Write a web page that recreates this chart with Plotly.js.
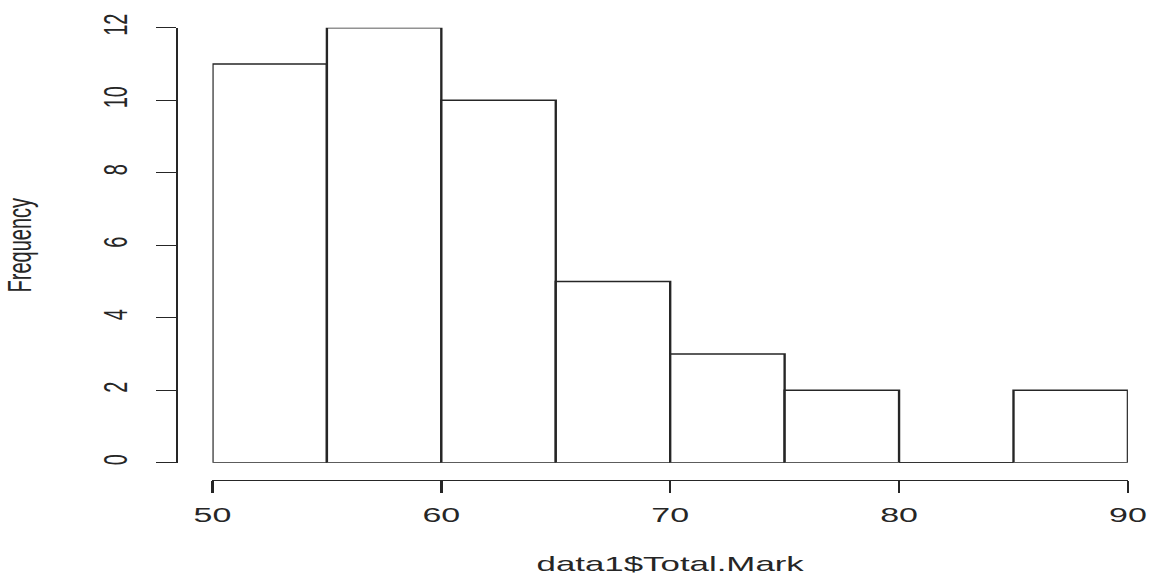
<!DOCTYPE html>
<html>
<head>
<meta charset="utf-8">
<script src="https://cdn.plot.ly/plotly-3.0.1.min.js"></script>
<style>
  html, body { margin: 0; padding: 0; background: #fff; overflow: hidden; }
  #wrap { width: 1149px; height: 575px; overflow: hidden; }
  #chart { width: 676px; height: 575px; transform: scaleX(1.69970); transform-origin: 0 0; }
</style>
</head>
<body>
<div id="wrap"><div id="chart"></div></div>
<script>
// Histogram of data1$Total.Mark
const binStarts = [50, 55, 60, 65, 70, 75, 80, 85];
const binWidth = 5;
const frequencies = [11, 12, 10, 5, 3, 2, 0, 2];
const xTickVals = [50, 60, 70, 80, 90];
const yTickVals = [0, 2, 4, 6, 8, 10, 12];
const xTitle = "data1$Total.Mark";
const yTitle = "Frequency";

const W = 676, H = 575;
const ink = "#262626";
const font = "Liberation Sans, Arial, sans-serif";
const lw = 1.4;

const centers = binStarts.map(s => s + binWidth / 2);

// zero-count bins are drawn as flat outlines on the baseline (as R does)
const zx = [], zy = [];
binStarts.forEach((s, i) => {
  if (frequencies[i] === 0) { zx.push(s, s + binWidth, null); zy.push(0, 0, null); }
});

const traces = [
  {
    type: "bar",
    x: centers,
    y: frequencies,
    width: binStarts.map(() => binWidth),
    marker: { color: "#ffffff", line: { color: ink, width: lw } },
    cliponaxis: false,
    hoverinfo: "x+y",
    showlegend: false
  },
  {
    type: "scatter",
    mode: "lines",
    x: zx,
    y: zy,
    line: { color: ink, width: lw },
    cliponaxis: false,
    hoverinfo: "skip",
    showlegend: false
  }
];

const layout = {
  width: W,
  height: H,
  margin: { l: 0, r: 0, t: 0, b: 0, pad: 0 },
  paper_bgcolor: "#fff",
  plot_bgcolor: "rgba(0,0,0,0)",
  showlegend: false,
  font: { family: font, color: ink, size: 20 },
  xaxis: {
    domain: [125 / W, 663.6 / W],
    range: [50, 90],
    anchor: "free",
    position: (H - 480) / H,
    showline: true, linecolor: ink, linewidth: lw,
    ticks: "outside", ticklen: 12, tickwidth: lw, tickcolor: ink,
    tickmode: "array", tickvals: xTickVals,
    ticklabelstandoff: 5,
    tickfont: { family: font, size: 20, color: ink },
    showgrid: false, zeroline: false, fixedrange: true,
    title: { text: xTitle, font: { family: font, size: 20.5, color: ink }, standoff: 37 }
  },
  yaxis: {
    domain: [(H - 462.7) / H, (H - 27.7) / H],
    range: [0, 12],
    anchor: "free",
    position: 103.5 / W,
    showline: true, linecolor: ink, linewidth: lw,
    ticks: "outside", ticklen: 12, tickwidth: lw, tickcolor: ink,
    tickmode: "array", tickvals: yTickVals, tickangle: -90,
    ticklabelstandoff: 9,
    tickfont: { family: font, size: 20, color: ink },
    showgrid: false, zeroline: false, fixedrange: true,
    title: { text: yTitle, font: { family: font, size: 20, color: ink }, standoff: 31 }
  }
};

Plotly.newPlot("chart", traces, layout, { displayModeBar: false, staticPlot: true });
</script>
</body>
</html>
